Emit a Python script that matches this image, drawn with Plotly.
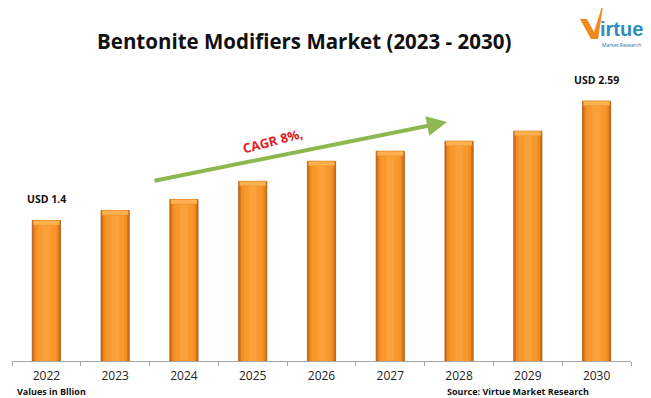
import plotly.graph_objects as go

years = ["2022", "2023", "2024", "2025", "2026", "2027", "2028", "2029", "2030"]
values = [1.40, 1.50, 1.61, 1.79, 1.99, 2.09, 2.19, 2.29, 2.59]
first_label = "USD 1.4"
last_label = "USD 2.59"
title_text = "Bentonite Modifiers Market (2023 - 2030)"
cagr_text = "CAGR 8%,"

# page body has an 8px margin, so the figure is 8px smaller and all screen coords shift by 8
OFF = 8
W, H = 651 - OFF, 398 - OFF
L, R, T, B = 12 - OFF, 20, 60 - OFF, 37
pw, ph = W - L - R, H - T - B

def px(x):
    return (x - OFF - L) / pw

def py(y):
    return (H - B - (y - OFF)) / ph

fig = go.Figure()

layers = [
    (0.41, "#CF7016", dict(color="#A9570F", width=0.8)),
    (0.35, "#F08C22", dict(width=0)),
    (0.27, "#F8982C", dict(width=0)),
    (0.12, "#FBA13A", dict(width=0)),
]
for w, c, ln in layers:
    fig.add_trace(go.Bar(x=years, y=values, width=w, marker=dict(color=c, line=ln),
                         hoverinfo="skip", showlegend=False))

cap = 0.045
fig.add_trace(go.Bar(x=years, y=[cap] * len(values), base=[v - cap for v in values], width=0.38,
                     marker=dict(color="#FDB24F", line=dict(color="#E8902A", width=0.5)),
                     hoverinfo="skip", showlegend=False))

fig.update_layout(
    width=W, height=H,
    margin=dict(l=L, r=R, t=T, b=B, autoexpand=False),
    barmode="overlay",
    plot_bgcolor="white", paper_bgcolor="white",
    font=dict(family="Open Sans, sans-serif", color="#222222"),
    xaxis=dict(type="category", range=[-0.5, 8.5], showline=True, linecolor="#A6A6A6", linewidth=1,
               ticks="outside", tickson="boundaries", ticklen=4, tickcolor="#A6A6A6",
               ticklabelstandoff=4,
               tickfont=dict(size=12, color="#222222", family="Open Sans, sans-serif"),
               showgrid=False, zeroline=False, fixedrange=True, automargin=False),
    yaxis=dict(range=[0, 3.0], visible=True, showticklabels=False, ticks="", showline=False,
               showgrid=False, zeroline=False, automargin=False),
)

ann = []
# category axes place annotations by category index
first_i, last_i = 0, len(years) - 1
ann.append(dict(x=first_i, y=values[first_i], xref="x", yref="y", text="<b>" + first_label + "</b>",
                showarrow=False, xanchor="center", yanchor="middle", yshift=22,
                font=dict(size=10.5, color="#111111")))
ann.append(dict(x=last_i, y=values[last_i], xref="x", yref="y", text="<b>" + last_label + "</b>",
                showarrow=False, xanchor="center", yanchor="middle", yshift=21,
                font=dict(size=10.5, color="#111111")))

ann.append(dict(x=px(304), y=py(41), xref="paper", yref="paper", text="<b>" + title_text + "</b>",
                showarrow=False, xanchor="center", yanchor="middle",
                font=dict(size=20.5, color="#111111")))

# CAGR arrow
ann.append(dict(x=px(447), y=py(122), ax=153 - 447, ay=181 - 122, xref="paper", yref="paper",
                axref="pixel", ayref="pixel", text="", showarrow=True, arrowhead=2,
                arrowsize=1.0, arrowwidth=4, arrowcolor="#8DB74F"))
ann.append(dict(x=px(272), y=py(141), xref="paper", yref="paper", text="<b>" + cagr_text + "</b>",
                showarrow=False, xanchor="center", yanchor="middle", textangle=-15,
                font=dict(size=13, color="#E0202A")))

# bottom notes
ann.append(dict(x=px(15), y=py(392), xref="paper", yref="paper", text="<b>Values in Bllion</b>",
                showarrow=False, xanchor="left", yanchor="middle", font=dict(size=9, color="#111111")))
ann.append(dict(x=px(445), y=py(392), xref="paper", yref="paper",
                text="<b>Source: Virtue Market Research</b>",
                showarrow=False, xanchor="left", yanchor="middle", font=dict(size=9, color="#111111")))

# logo
ann.append(dict(x=px(598), y=py(29), xref="paper", yref="paper",
                text="<b>irtue</b>", showarrow=False, xanchor="left", yanchor="middle",
                font=dict(size=20, color="#2A8FC0",
                          family="Liberation Sans Narrow, Liberation Sans, sans-serif")))
ann.append(dict(x=px(621), y=py(45), xref="paper", yref="paper", text="Market Research",
                showarrow=False, xanchor="center", yanchor="middle",
                font=dict(size=5, color="#2A6F95")))

fig.update_layout(annotations=ann)

# logo "V" swoosh
pts = [(580, 19), (587, 19), (594, 32), (604, 0), (598, 39), (591, 39)]
path = "M " + " L ".join(f"{px(a)} {py(b)}" for a, b in pts) + " Z"
fig.add_shape(type="path", xref="paper", yref="paper", path=path,
              fillcolor="#F08A1C", line=dict(width=0))

fig.write_html("out.html")
